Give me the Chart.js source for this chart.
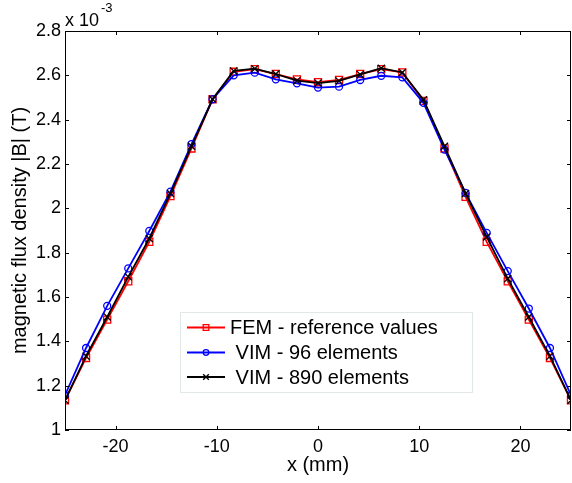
<!DOCTYPE html>
<html>
<head>
<meta charset="utf-8">
<script src="https://cdn.jsdelivr.net/npm/chart.js@4"></script>
<style>
  body { margin: 0; background: #fff; }
  #wrap { width: 572px; height: 483px; position: relative; }
</style>
</head>
<body>
<div id="wrap"><canvas id="grafico"></canvas></div>
<script>
// x positions (mm) and |B| values (x 10^-3 T)
const xPos = [-25, -22.92, -20.83, -18.75, -16.67, -14.58, -12.5, -10.42, -8.33, -6.25, -4.17, -2.08, 0,
              2.08, 4.17, 6.25, 8.33, 10.42, 12.5, 14.58, 16.67, 18.75, 20.83, 22.92, 25];
const fem = [1.134, 1.325, 1.498, 1.671, 1.849, 2.055, 2.27, 2.492, 2.616, 2.628, 2.606, 2.582, 2.569,
             2.579, 2.606, 2.628, 2.613, 2.485, 2.27, 2.052, 1.849, 1.671, 1.498, 1.325, 1.134];
const vim96 = [1.157, 1.37, 1.56, 1.729, 1.898, 2.075, 2.29, 2.492, 2.60, 2.612, 2.582, 2.564, 2.545,
               2.549, 2.579, 2.598, 2.591, 2.476, 2.265, 2.07, 1.889, 1.717, 1.548, 1.37, 1.157];
const vim890 = [1.134, 1.333, 1.51, 1.691, 1.864, 2.067, 2.28, 2.492, 2.62, 2.63, 2.606, 2.576, 2.565,
                2.575, 2.604, 2.632, 2.613, 2.49, 2.28, 2.067, 1.871, 1.683, 1.51, 1.333, 1.134];
const labels = ['FEM - reference values', ' VIM - 96 elements', ' VIM - 890 elements'];
const xTicks = [-20, -10, 0, 10, 20];
const yTicks = [1, 1.2, 1.4, 1.6, 1.8, 2, 2.2, 2.4, 2.6, 2.8];

const FONT = 'Liberation Sans, Arial, sans-serif';

function pts(vals) {
    return vals.map((v, i) => ({ x: xPos[i], y: v }));
}

// box, inward ticks, exponent and legend (MATLAB look)
const matlabAxes = {
    id: 'matlabAxes',
    afterDraw(chart) {
        const ctx = chart.ctx;
        const a = chart.chartArea;
        const xs = chart.scales.x, ys = chart.scales.y;
        const tl = 4;
        ctx.save();
        ctx.strokeStyle = '#000';
        ctx.lineWidth = 1;
        ctx.strokeRect(a.left + 0.5, a.top + 0.5, a.right - a.left - 1, a.bottom - a.top - 1);
        ctx.beginPath();
        xTicks.forEach(v => {
            const px = Math.round(xs.getPixelForValue(v)) + 0.5;
            ctx.moveTo(px, a.bottom); ctx.lineTo(px, a.bottom - tl);
            ctx.moveTo(px, a.top); ctx.lineTo(px, a.top + tl);
        });
        yTicks.forEach(v => {
            const py = Math.round(ys.getPixelForValue(v)) + 0.5;
            ctx.moveTo(a.left, py); ctx.lineTo(a.left + tl, py);
            ctx.moveTo(a.right, py); ctx.lineTo(a.right - tl, py);
        });
        ctx.stroke();

        // x 10^-3
        ctx.fillStyle = '#000';
        ctx.textBaseline = 'alphabetic';
        ctx.textAlign = 'left';
        ctx.font = '18px ' + FONT;
        ctx.fillText('x 10', 65, 26);
        ctx.font = '13px ' + FONT;
        ctx.fillText('-3', 101, 12);

        // legend
        const bx = 180, by = 312, bw = 292, bh = 80;
        ctx.fillStyle = '#fff';
        ctx.fillRect(bx, by, bw, bh);
        ctx.strokeStyle = '#e2e8e8';
        ctx.strokeRect(bx + 0.5, by + 0.5, bw, bh);
        const rows = [327.5, 352.5, 377];
        chart.data.datasets.forEach((ds, i) => {
            const y = rows[i];
            ctx.strokeStyle = ds.borderColor;
            ctx.lineWidth = 1.8;
            ctx.beginPath();
            ctx.moveTo(187, y); ctx.lineTo(225, y);
            ctx.stroke();
            ctx.lineWidth = 1.3;
            ctx.fillStyle = 'rgba(0,0,0,0)';
            Chart.helpers.drawPoint(ctx, {
                pointStyle: ds.pointStyle, radius: ds.pointRadius * 0.8, borderWidth: 1.3
            }, 206, y);
            ctx.fillStyle = '#000';
            ctx.font = '20px ' + FONT;
            ctx.textBaseline = 'middle';
            ctx.fillText(ds.label, 230, y + 1);
        });
        ctx.restore();
    }
};

const ctx = document.getElementById('grafico').getContext('2d');
const grafico = new Chart(ctx, {
    type: 'line',
    data: {
        datasets: [{
            label: labels[0],
            data: pts(fem),
            borderColor: '#ff0000',
            pointBorderColor: '#ff0000',
            pointBackgroundColor: 'rgba(0,0,0,0)',
            pointStyle: 'rect',
            pointRadius: 5,
            order: 2
        }, {
            label: labels[1],
            data: pts(vim96),
            borderColor: '#0000ff',
            pointBorderColor: '#0000ff',
            pointBackgroundColor: 'rgba(0,0,0,0)',
            pointStyle: 'circle',
            pointRadius: 3.5,
            order: 1
        }, {
            label: labels[2],
            data: pts(vim890),
            borderColor: '#000000',
            pointBorderColor: '#000000',
            pointBackgroundColor: 'rgba(0,0,0,0)',
            pointStyle: 'crossRot',
            pointRadius: 5,
            order: 0
        }]
    },
    options: {
        responsive: true,
        maintainAspectRatio: false,
        animation: false,
        devicePixelRatio: 1,
        layout: { autoPadding: false, padding: { top: 31, right: 1, left: 0, bottom: 0 } },
        elements: {
            line: { borderWidth: 1.8, tension: 0 },
            point: { borderWidth: 1.3, hoverRadius: 4 }
        },
        plugins: {
            legend: { display: false },
            tooltip: { enabled: false }
        },
        scales: {
            x: {
                type: 'linear',
                min: -25,
                max: 25,
                afterFit: s => { s.height = 53; s.paddingLeft = 0; s.paddingRight = 0; },
                afterBuildTicks: s => { s.ticks = xTicks.map(v => ({ value: v })); },
                grid: { display: false, drawTicks: false },
                border: { display: false },
                ticks: {
                    color: '#000',
                    padding: 6,
                    maxRotation: 0,
                    font: { family: FONT, size: 18 },
                    callback: v => String(v)
                },
                title: {
                    display: true,
                    text: 'x (mm)',
                    color: '#000',
                    font: { family: FONT, size: 20 },
                    padding: { top: 0, bottom: 6 }
                }
            },
            y: {
                type: 'linear',
                min: 1,
                max: 2.8,
                afterFit: s => { s.width = 65; s.paddingTop = 0; s.paddingBottom = 0; },
                afterBuildTicks: s => { s.ticks = yTicks.map(v => ({ value: v })); },
                grid: { display: false, drawTicks: false },
                border: { display: false },
                ticks: {
                    color: '#000',
                    padding: 4,
                    font: { family: FONT, size: 18 },
                    callback: v => String(v)
                },
                title: {
                    display: true,
                    text: 'magnetic flux density |B| (T)',
                    color: '#000',
                    font: { family: FONT, size: 20 },
                    padding: { top: 8, bottom: 0 }
                }
            }
        }
    },
    plugins: [matlabAxes]
});
</script>
</body>
</html>
